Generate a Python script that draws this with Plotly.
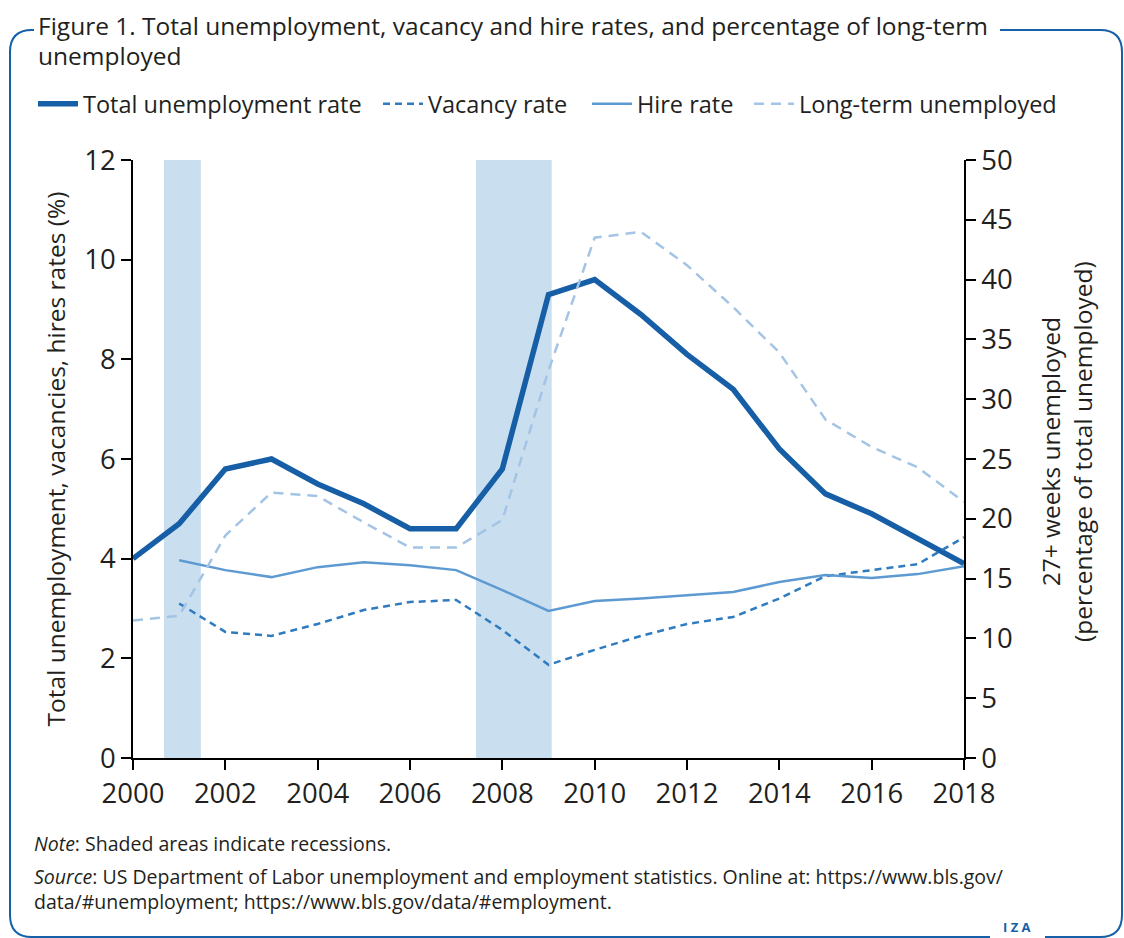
import plotly.graph_objects as go

years = list(range(2000, 2019))
unemployment = [4.0, 4.7, 5.8, 6.0, 5.5, 5.1, 4.6, 4.6, 5.8, 9.3, 9.6, 8.9, 8.1, 7.4, 6.2, 5.3, 4.9, 4.4, 3.9]
vac_years = list(range(2001, 2019))
vacancy = [3.1, 2.53, 2.45, 2.69, 2.97, 3.13, 3.17, 2.57, 1.87, 2.17, 2.45, 2.69, 2.83, 3.2, 3.65, 3.77, 3.89, 4.43]
hire = [3.97, 3.77, 3.63, 3.83, 3.93, 3.87, 3.77, 3.37, 2.95, 3.15, 3.2, 3.27, 3.33, 3.53, 3.67, 3.61, 3.69, 3.85]
long_term = [11.5, 11.9, 18.6, 22.2, 21.9, 19.7, 17.6, 17.6, 19.9, 32.4, 43.5, 44.0, 41.2, 37.7, 33.9, 28.3, 26.0, 24.3, 21.4]
recession_starts = [2000.67, 2007.43]
recession_ends = [2001.47, 2009.07]

W, H = 1124, 938
L, R, T, B = 133, 964, 160, 758

def px(x):
    return (x - L) / (R - L)

def py(y):
    return (B - y) / (B - T)

FONT = "Open Sans"
TXT = "#231f20"
C_UNEMP = "#165ea6"
C_VAC = "#2f7bbf"
C_HIRE = "#5e9ad2"
C_LT = "#a3c4e4"
FRAME = "#1560a8"

fig = go.Figure()
fig.add_trace(go.Scatter(x=years, y=unemployment, mode="lines", name="Total unemployment rate",
                         line=dict(color=C_UNEMP, width=5.5), legend="legend"))
fig.add_trace(go.Scatter(x=vac_years, y=vacancy, mode="lines", name="Vacancy rate",
                         line=dict(color=C_VAC, width=2.5, dash="7px,5px"), legend="legend2"))
fig.add_trace(go.Scatter(x=vac_years, y=hire, mode="lines", name="Hire rate",
                         line=dict(color=C_HIRE, width=2.5), legend="legend3"))
fig.add_trace(go.Scatter(x=years, y=long_term, mode="lines", name="Long-term unemployed",
                         line=dict(color=C_LT, width=2.5, dash="10px,7px"), yaxis="y2", legend="legend4"))

shapes = []
for s, e in zip(recession_starts, recession_ends):
    shapes.append(dict(type="rect", xref="x", yref="paper", x0=s, x1=e, y0=0, y1=1,
                       fillcolor="#c9dff0", line=dict(width=0), layer="below"))

def pt(x, y):
    return f"{px(x):.5f},{py(y):.5f}"

frame_path = (
    f"M {pt(1000,30)} L {pt(1100,30)} Q {pt(1122,30)} {pt(1122,52)} L {pt(1122,915)} "
    f"Q {pt(1122,937)} {pt(1100,937)} L {pt(1045,937)} "
    f"M {pt(990,937)} L {pt(32,937)} Q {pt(10,937)} {pt(10,915)} L {pt(10,52)} "
    f"Q {pt(10,30)} {pt(32,30)} L {pt(34,30)}"
)
shapes.append(dict(type="path", xref="paper", yref="paper", path=frame_path,
                   line=dict(color=FRAME, width=2)))

def ann(text, x, y, size, xanchor="left", **kw):
    d = dict(text=text, x=px(x), y=py(y), xref="paper", yref="paper", xanchor=xanchor,
             yanchor="middle", showarrow=False, font=dict(size=size, color=kw.pop("color", TXT), family=FONT))
    d.update(kw)
    return d

annotations = [
    ann("Figure 1. Total unemployment, vacancy and hire rates, and percentage of long-term", 36, 25, 24.5),
    ann("unemployed", 36, 55, 24.5),
    ann("<i>Note</i>: Shaded areas indicate recessions.", 32, 843, 19.5),
    ann("<i>Source</i>: US Department of Labor unemployment and employment statistics. Online at: https://www.bls.gov/"
        "<br>data/#unemployment; https://www.bls.gov/data/#employment.", 32, 889, 19.5, align="left"),
    ann("<b>I Z A</b>", 1017, 927, 13, xanchor="center", color=FRAME),
    ann("27+ weeks unemployed<br>(percentage of total unemployed)", 1066, 452, 24.5, xanchor="center",
        textangle=-90),
]

axis_common = dict(showline=True, linecolor="black", linewidth=1.5, ticks="outside", ticklen=10,
                   tickcolor="black", tickwidth=1.5, showgrid=False, zeroline=False,
                   tickfont=dict(size=27.5, color=TXT, family=FONT))

def leg(xpix):
    return dict(orientation="h", x=px(xpix), y=py(104), xanchor="left", yanchor="middle",
                font=dict(size=23.5, color=TXT, family=FONT), itemwidth=40,
                bgcolor="rgba(0,0,0,0)")

fig.update_layout(
    width=W, height=H,
    margin=dict(l=L, r=W - R, t=T, b=H - B, autoexpand=False),
    paper_bgcolor="white", plot_bgcolor="white",
    font=dict(family=FONT, color=TXT),
    xaxis=dict(range=[2000, 2018], dtick=2, tick0=2000, **axis_common),
    yaxis=dict(range=[0, 12], dtick=2, **axis_common,
               title=dict(text="Total unemployment, vacancies, hires rates (%)",
                          font=dict(size=24.5, color=TXT, family=FONT), standoff=12)),
    yaxis2=dict(range=[0, 50], dtick=5, overlaying="y", side="right", anchor="x", **axis_common),
    legend=leg(33),
    legend2=leg(378),
    legend3=leg(587),
    legend4=leg(749),
    showlegend=True,
    shapes=shapes,
    annotations=annotations,
)

fig.write_html("out.html", config={"displayModeBar": False},
               post_script="document.body.style.margin='0';document.body.style.overflow='hidden';")
